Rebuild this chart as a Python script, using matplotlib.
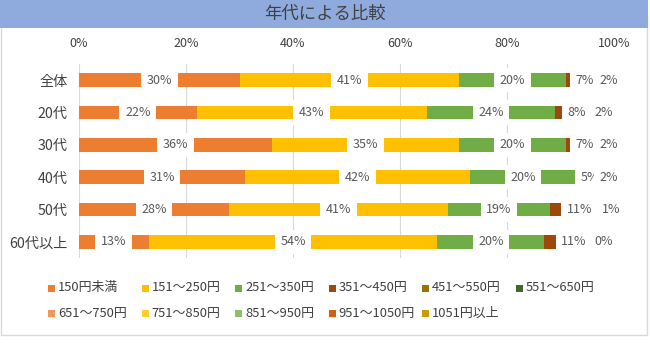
import matplotlib
matplotlib.use("Agg")
import matplotlib.pyplot as plt
from matplotlib.patches import Rectangle

plt.rcParams['font.family'] = ['Noto Sans CJK JP', 'DejaVu Sans']

categories = ["全体", "20代", "30代", "40代", "50代", "60代以上"]
series_names = ["150円未満", "151～250円", "251～350円", "351～450円", "451～550円", "551～650円",
                "651～750円", "751～850円", "851～950円", "951～1050円", "1051円以上"]
s_150 = [30, 22, 36, 31, 28, 13]
s_250 = [41, 43, 35, 42, 41, 54]
s_350 = [20, 24, 20, 20, 19, 20]
s_450 = [7, 8, 7, 5, 11, 11]
s_550 = [2, 2, 2, 2, 1, 0]
s_650 = [0, 0, 0, 0, 0, 0]
s_750 = [0, 0, 0, 0, 0, 0]
s_850 = [0, 0, 0, 0, 0, 0]
s_950 = [0, 0, 0, 0, 0, 0]
s_1050 = [0, 0, 0, 0, 0, 0]
s_over = [0, 0, 0, 0, 0, 0]
series = [s_150, s_250, s_350, s_450, s_550, s_650, s_750, s_850, s_950, s_1050, s_over]
labeled = 5  # first five series carry data labels
colors = ["#ED7D31", "#FFC000", "#70AD47", "#9E480E", "#997300", "#43682B",
          "#F1975A", "#FFCD33", "#8CC168", "#D26012", "#CC9A06"]
xticks = [0, 20, 40, 60, 80, 100]
xticklabels = ["0%", "20%", "40%", "60%", "80%", "100%"]

W, H = 650, 358
fig = plt.figure(figsize=(W / 100, H / 100), dpi=100)

# chart border & title band
fig.patches.append(Rectangle((0.5 / W, 1 - 335 / H), 646.5 / W, 335 / H, transform=fig.transFigure,
                             fill=False, edgecolor="#D9D9D9", linewidth=1.0, zorder=0))
fig.patches.append(Rectangle((0, 1 - 28 / H), 648 / W, 28 / H, transform=fig.transFigure,
                             facecolor="#8FAADC", edgecolor="none", zorder=1))
fig.text(325 / W, 1 - 14 / H, "年代による比較", ha="center", va="center", fontsize=12.5, color="#404040")

ax = fig.add_axes([79 / W, (H - 258) / H, 535 / W, 194 / H])
ypos = list(range(len(categories)))
left = [0.0] * len(categories)
bar_h = 0.42
for k, (vals, col) in enumerate(zip(series, colors)):
    ax.barh(ypos, vals, left=left, height=bar_h, color=col, edgecolor="none", zorder=2)
    if k < labeled:
        for i, v in enumerate(vals):
            ax.text(left[i] + v / 2, ypos[i], f"{v}%", ha="center", va="center", fontsize=9,
                    color="#595959", zorder=5,
                    bbox=dict(boxstyle="square,pad=0.45", facecolor="white", edgecolor="none"))
    left = [l + v for l, v in zip(left, vals)]

ax.set_xlim(0, 100)
ax.set_ylim(len(categories) - 0.5, -0.5)
ax.set_yticks(ypos)
ax.set_yticklabels(categories, fontsize=10.2, color="#404040")
ax.xaxis.tick_top()
ax.set_xticks(xticks)
ax.set_xticklabels(xticklabels, fontsize=9, color="#404040")
ax.tick_params(axis="both", length=0)
ax.tick_params(axis="x", pad=10)
ax.tick_params(axis="y", pad=8)
for sp in ax.spines.values():
    sp.set_visible(False)
ax.grid(axis="x", color="#D9D9D9", linewidth=0.8, zorder=0)
ax.set_axisbelow(True)

# legend laid out like the reference (row-major, fixed column width)
for i, (name, col) in enumerate(zip(series_names, colors)):
    r, c = divmod(i, 6)
    x = 48 + c * 93.5
    y = 288 + r * 25
    fig.patches.append(Rectangle((x / W, 1 - (y + 3.5) / H), 7 / W, 7 / H, transform=fig.transFigure,
                                 facecolor=col, edgecolor="none"))
    fig.text((x + 10) / W, 1 - y / H, name, ha="left", va="center", fontsize=9.3, color="#404040")

fig.savefig("out.png", dpi=100, facecolor="white")
